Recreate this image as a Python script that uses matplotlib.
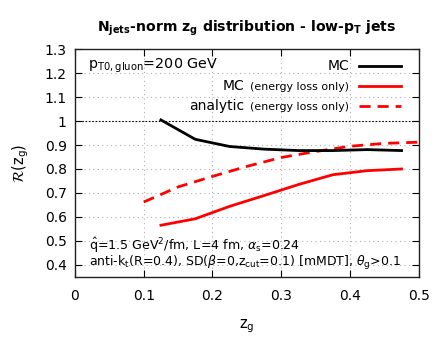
import matplotlib
matplotlib.use("Agg")
import matplotlib.pyplot as plt
from matplotlib.offsetbox import TextArea, HPacker, AnchoredOffsetbox

plt.rcParams['font.family'] = ['DejaVu Sans']
plt.rcParams['mathtext.fontset'] = 'dejavusans'

# data
zg_mc = [0.125, 0.175, 0.225, 0.275, 0.325, 0.375, 0.425, 0.475]
r_mc = [1.005, 0.924, 0.894, 0.883, 0.877, 0.877, 0.881, 0.877]
r_mc_eloss = [0.565, 0.592, 0.644, 0.689, 0.735, 0.776, 0.793, 0.800]
zg_an = [0.10, 0.15, 0.20, 0.25, 0.30, 0.35, 0.40, 0.45, 0.50]
r_an = [0.662, 0.725, 0.769, 0.811, 0.848, 0.873, 0.895, 0.907, 0.912]

xticks = [0, 0.1, 0.2, 0.3, 0.4, 0.5]
xticklabels = ['0', '0.1', '0.2', '0.3', '0.4', '0.5']
yticks = [0.4, 0.5, 0.6, 0.7, 0.8, 0.9, 1.0, 1.1, 1.2, 1.3]
yticklabels = ['0.4', '0.5', '0.6', '0.7', '0.8', '0.9', '1', '1.1', '1.2', '1.3']

fig = plt.figure(figsize=(4.45, 3.45), dpi=100)
ax = fig.add_axes([0.1685, 0.198, 0.7725, 0.659])

ax.set_xlim(0, 0.5)
ax.set_ylim(0.35, 1.3)
ax.set_xticks(xticks)
ax.set_xticklabels(xticklabels)
ax.set_yticks(yticks)
ax.set_yticklabels(yticklabels)
ax.tick_params(direction='in', length=5, width=0.8, top=True, right=True,
               labelsize=10, pad=6, colors='black')
ax.tick_params(axis='x', pad=9)
for s in ax.spines.values():
    s.set_linewidth(1.0)
    s.set_color('#222222')

for x in xticks[1:-1]:
    ax.axvline(x, color='#b0b0b0', lw=0.8, ls=(0, (1, 3)), zorder=0)
for y in yticks:
    if y not in (1.0, 1.3):
        ax.axhline(y, color='#b0b0b0', lw=0.8, ls=(0, (1, 3)), zorder=0)
ax.axhline(1.0, color='black', lw=0.8, ls=(0, (1.5, 1.5)), zorder=1)

ax.plot(zg_mc, r_mc, color='black', lw=2, zorder=3)
ax.plot(zg_mc, r_mc_eloss, color='red', lw=2, zorder=3)
ax.plot(zg_an, r_an, color='red', lw=2, ls=(0, (4, 2.5)), zorder=2)

# manual legend
rows = [("MC", "", dict(color='black', ls='-')),
        ("MC", "(energy loss only)", dict(color='red', ls='-')),
        ("analytic", "(energy loss only)", dict(color='red', ls=(0, (4, 2.5))))]
ys = [0.927, 0.840, 0.751]
for (big, small, st), yy in zip(rows, ys):
    ax.plot([0.826, 0.948], [yy, yy], transform=ax.transAxes, lw=2, **st)
    children = [TextArea(big, textprops=dict(fontsize=10))]
    if small:
        children.append(TextArea(small, textprops=dict(fontsize=7.9)))
    pk = HPacker(children=children, align='baseline', pad=0, sep=4)
    ab = AnchoredOffsetbox(loc='center right', child=pk, pad=0, borderpad=0,
                           frameon=False, bbox_to_anchor=(0.797, yy),
                           bbox_transform=ax.transAxes)
    ax.add_artist(ab)

ax.text(0.038, 0.927, r'p$_{\mathrm{T0,gluon}}$=200 GeV', transform=ax.transAxes,
        fontsize=10.3, va='center', ha='left')
ax.text(0.04, 0.139, r'$\hat{\mathrm{q}}$=1.5 GeV$^2$/fm, L=4 fm, $\alpha_\mathrm{s}$=0.24',
        transform=ax.transAxes, fontsize=9.1, va='center', ha='left')
ax.text(0.04, 0.062, r'anti-k$_\mathrm{t}$(R=0.4), SD($\beta$=0,z$_\mathrm{cut}$=0.1) [mMDT], $\theta_\mathrm{g}$>0.1',
        transform=ax.transAxes, fontsize=9.0, va='center', ha='left')

ax.set_xlabel(r'z$_\mathrm{g}$', fontsize=10.5, labelpad=10)
ax.set_ylabel(r'$\mathcal{R}$(z$_\mathrm{g}$)', fontsize=10.5, labelpad=10)
ax.set_title(r'N$_\mathbf{jets}$-norm z$_\mathbf{g}$ distribution - low-p$_\mathbf{T}$ jets',
             fontsize=10.1, fontweight='bold', pad=13)

fig.savefig('out.png', dpi=100)
